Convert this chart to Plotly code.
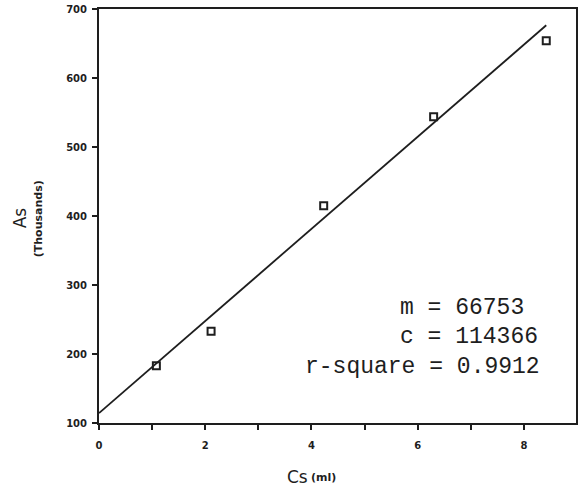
import plotly.graph_objects as go

# Standard-addition calibration: peak area (thousands) against added volume (ml)
cs_ml = [1.08, 2.11, 4.23, 6.30, 8.42]
as_thousands = [183, 233, 415, 544, 654]

# Least-squares fit results printed on the chart
slope_m = 66753
intercept_c = 114366
r_square = 0.9912

x_ticks = [0, 1, 2, 3, 4, 5, 6, 7, 8]
x_tick_text = ["0", "", "2", "", "4", "", "6", "", "8"]
y_ticks = [100, 200, 300, 400, 500, 600, 700]

# fitted line, expressed in thousands
line_x = [0, max(cs_ml)]
line_y = [(intercept_c + slope_m * x) / 1000 for x in line_x]

ink = "#1e1e1e"

fig = go.Figure()
fig.add_trace(go.Scatter(
    x=line_x, y=line_y, mode="lines",
    line=dict(color=ink, width=1.8), showlegend=False, hoverinfo="skip",
))
fig.add_trace(go.Scatter(
    x=cs_ml, y=as_thousands, mode="markers",
    marker=dict(symbol="square-open", size=7, color=ink, line=dict(width=2, color=ink)),
    showlegend=False,
))

axis_common = dict(
    showgrid=False, zeroline=False, showline=True, mirror=True,
    linecolor=ink, linewidth=2, ticks="outside", ticklen=5, tickwidth=1.5,
    tickcolor=ink,
    tickfont=dict(family="DejaVu Sans", size=10, color=ink, weight="bold"),
)

fig.update_xaxes(range=[0, 8.98], tickvals=x_ticks, ticktext=x_tick_text,
                 ticklabelstandoff=7, **axis_common)
fig.update_yaxes(range=[100, 700], tickvals=y_ticks, ticklabelstandoff=3, **axis_common)

mono = dict(family="Liberation Mono", size=23, color=ink)
stats = [
    (5.63, 266.5, f"m = {slope_m}"),
    (5.63, 224.5, f"c = {intercept_c}"),
    (3.84, 181.5, f"r-square = {r_square:.4f}"),
]
for x, y, txt in stats:
    fig.add_annotation(x=x, y=y, xref="x", yref="y", text=txt, showarrow=False,
                       xanchor="left", yanchor="middle", font=mono)

# axis titles, placed by pixel position
titles = [
    (20, 218, "As", -90, dict(family="DejaVu Sans", size=17, color=ink)),
    (38, 219, "(Thousands)", -90, dict(family="DejaVu Sans", size=11, color=ink, weight="bold")),
    (298, 477, "Cs", 0, dict(family="DejaVu Sans", size=17, color=ink)),
    (324, 478, "(ml)", 0, dict(family="DejaVu Sans", size=11, color=ink, weight="bold")),
]

L, R, T, B = 99, 1, 9, 68
W, H = 579, 491
pw, ph = W - L - R, H - T - B
for px, py, txt, ang, font in titles:
    fig.add_annotation(
        x=(px - L) / pw, y=1 - (py - T) / ph, xref="paper", yref="paper",
        xanchor="center", yanchor="middle", text=txt, textangle=ang,
        showarrow=False, font=font,
    )

fig.update_layout(
    width=W, height=H, margin=dict(l=L, r=R, t=T, b=B),
    paper_bgcolor="white", plot_bgcolor="white",
)

fig.write_html("out.html")
